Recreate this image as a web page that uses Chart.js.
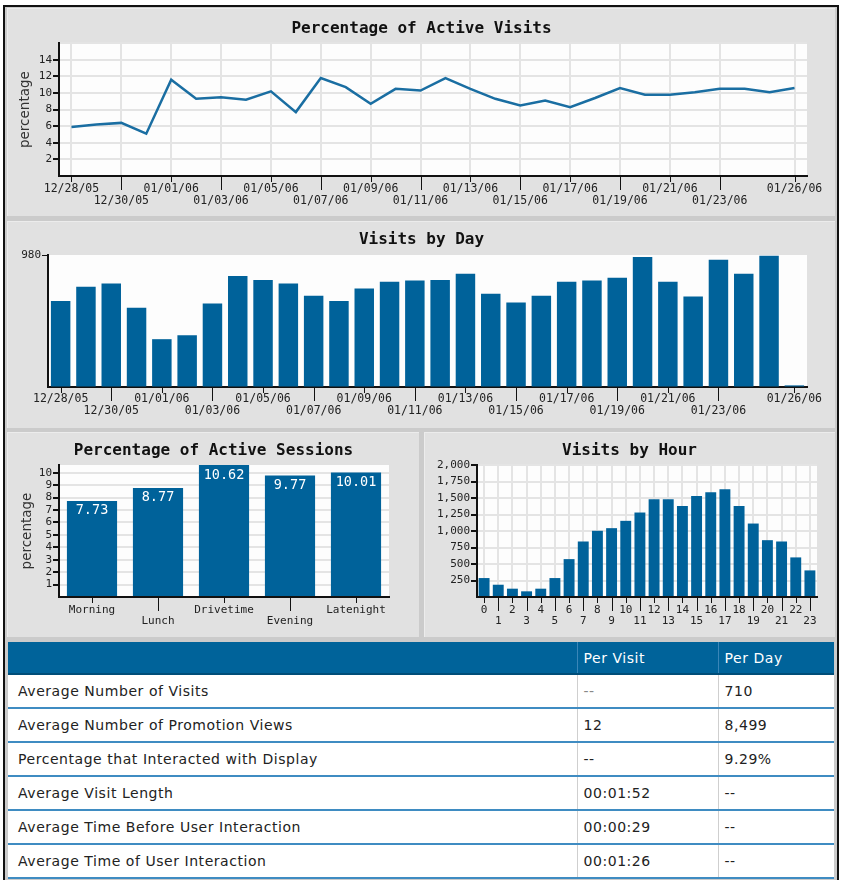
<!DOCTYPE html>
<html>
<head>
<meta charset="utf-8">
<script src="https://cdn.jsdelivr.net/npm/chart.js@4.4.1/dist/chart.umd.min.js"></script>
<style>
html,body{margin:0;padding:0;background:#fff;}
body{width:845px;height:880px;position:relative;overflow:hidden;font-family:"DejaVu Sans",Verdana,sans-serif;}
#frame{position:absolute;left:3px;top:5px;width:832px;height:900px;border:2px solid #111;border-bottom:none;background:#cbcbcb;}
.panel{position:absolute;background:#e1e1e1;box-shadow:inset 1px 1px 0 #ececec;}
canvas{position:absolute;}
#stats{position:absolute;left:8px;top:642px;width:826px;border-collapse:collapse;background:#fff;font-size:14px;letter-spacing:0.55px;color:#222;table-layout:fixed;}
#stats th{background:#00639a;color:#fff;font-weight:normal;text-align:left;height:31px;padding:0 0 0 6px;border-bottom:2px solid #004d78;border-left:1px solid #3a86b8;}
#stats th:first-child{border-left:none;}
#stats td{height:32px;padding:0 0 0 6px;border-bottom:2px solid #3f8cc2;border-left:1px solid #cfcfcf;vertical-align:middle;}
#stats td:first-child{padding-left:10px;border-left:none;}
#stats td.dim{color:#888;}
</style>
</head>
<body>
<div id="frame"></div>
<div class="panel" style="left:7px;top:8px;width:828px;height:208px;"></div>
<div class="panel" style="left:7px;top:221px;width:828px;height:207px;"></div>
<div class="panel" style="left:7px;top:432px;width:412px;height:205px;"></div>
<div class="panel" style="left:424px;top:432px;width:411px;height:205px;"></div>

<canvas id="c1" width="827" height="207" style="left:8px;top:9px;"></canvas>
<canvas id="c2" width="827" height="207" style="left:8px;top:221px;"></canvas>
<canvas id="c3" width="411" height="205" style="left:8px;top:432px;"></canvas>
<canvas id="c4" width="411" height="205" style="left:424px;top:432px;"></canvas>

<table id="stats">
<colgroup><col style="width:569px"><col style="width:141px"><col style="width:116px"></colgroup>
<thead><tr id="statsHead"></tr></thead>
<tbody id="statsBody"></tbody>
</table>

<script>
// ---------------- data ----------------
const dayLabels = ['12/28/05','12/29/05','12/30/05','12/31/05','01/01/06','01/02/06','01/03/06','01/04/06','01/05/06','01/06/06',
  '01/07/06','01/08/06','01/09/06','01/10/06','01/11/06','01/12/06','01/13/06','01/14/06','01/15/06','01/16/06',
  '01/17/06','01/18/06','01/19/06','01/20/06','01/21/06','01/22/06','01/23/06','01/24/06','01/25/06','01/26/06'];
const activeVisitPct = [5.9,6.2,6.4,5.1,11.6,9.3,9.5,9.2,10.2,7.7,11.8,10.7,8.7,10.5,10.3,11.8,10.5,9.3,8.5,9.1,
  8.3,9.4,10.6,9.8,9.8,10.1,10.5,10.5,10.1,10.6];
const visitsByDay = [638,744,769,588,355,385,620,824,794,769,677,638,732,782,791,794,841,692,628,677,
  782,791,811,965,782,671,945,841,975,12];
const visitsByDayMax = 980;
const sessionCategories = ['Morning','Lunch','Drivetime','Evening','Latenight'];
const sessionPct = [7.73,8.77,10.62,9.77,10.01];
const hourLabels = ['0','1','2','3','4','5','6','7','8','9','10','11','12','13','14','15','16','17','18','19','20','21','22','23'];
const visitsByHour = [287,186,126,86,126,287,574,841,1003,1043,1154,1280,1481,1481,1380,1531,1587,1632,1380,1113,861,841,600,403];
const tableHeader = ['', 'Per Visit', 'Per Day'];
const tableRows = [
  ['Average Number of Visits', '--', '710'],
  ['Average Number of Promotion Views', '12', '8,499'],
  ['Percentage that Interacted with Display', '--', '9.29%'],
  ['Average Visit Length', '00:01:52', '--'],
  ['Average Time Before User Interaction', '00:00:29', '--'],
  ['Average Time of User Interaction', '00:01:26', '--']
];

// ---------------- table ----------------
const head = document.getElementById('statsHead');
tableHeader.forEach(h => { const th = document.createElement('th'); th.textContent = h; head.appendChild(th); });
const body = document.getElementById('statsBody');
tableRows.forEach((r, ri) => {
  const tr = document.createElement('tr');
  r.forEach((v, ci) => { const td = document.createElement('td'); td.textContent = v;
    if (ri === 0 && ci === 1) td.className = 'dim';
    tr.appendChild(td); });
  body.appendChild(tr);
});

// ---------------- charts ----------------
Chart.defaults.animation = false;
Chart.defaults.responsive = false;
Chart.defaults.devicePixelRatio = 1;
Chart.defaults.plugins.legend.display = false;
Chart.defaults.plugins.tooltip.enabled = false;
Chart.defaults.color = '#222';

const MONO = '"DejaVu Sans Mono", monospace';
const SANS = '"DejaVu Sans", sans-serif';
const BLUE = '#00629a';
const GRID = '#e4e4e4';
const AXIS = '#111';
const NONE = 'rgba(0,0,0,0)';

const plotBg = {
  id: 'plotBg',
  beforeDraw(chart) {
    const {ctx, chartArea: a} = chart;
    ctx.save(); ctx.fillStyle = '#fdfdfd';
    ctx.fillRect(a.left, a.top, a.right - a.left, a.bottom - a.top);
    ctx.restore();
  }
};
// tick marks below the x axis: short for the first label row, long for the second
const staggerTicks = {
  id: 'staggerTicks',
  afterDraw(chart) {
    const s = chart.scales.x, ctx = chart.ctx;
    ctx.save(); ctx.strokeStyle = AXIS; ctx.lineWidth = 1;
    s.ticks.forEach((t, i) => {
      const lab = t.label;
      if (lab === '' || lab == null) return;
      const len = Array.isArray(lab) ? 14 : 6;
      const x = Math.round(s.getPixelForTick(i)) + 0.5;
      ctx.beginPath(); ctx.moveTo(x, s.top); ctx.lineTo(x, s.top + len); ctx.stroke();
    });
    ctx.restore();
  }
};
const barValues = {
  id: 'barValues',
  afterDatasetsDraw(chart) {
    const ctx = chart.ctx, meta = chart.getDatasetMeta(0), data = chart.data.datasets[0].data;
    ctx.save(); ctx.fillStyle = '#fff'; ctx.font = '13.5px ' + MONO;
    ctx.textAlign = 'center'; ctx.textBaseline = 'middle';
    meta.data.forEach((el, i) => ctx.fillText(data[i].toFixed(2), el.x, el.y + 10));
    ctx.restore();
  }
};

function titleOpt(text, top, bottom) {
  return {display: true, text, color: '#111', font: {family: MONO, size: 16, weight: 'bold', lineHeight: 1.2},
    padding: {top, bottom}};
}
// invisible right-hand spacer so the title stays centred on the whole panel
function spacer(w) {
  return {position: 'right', display: true, grid: {display: false, drawTicks: false}, border: {display: false},
    ticks: {display: false}, afterFit: s => { s.width = w; }};
}
const tickFont = {family: MONO, size: 11.5, lineHeight: 1.05};

// day-axis labelling: every second day, plus the final day; rows alternate
function dayShown(i) { return (i % 2 === 0 && i < dayLabels.length - 2) || i === dayLabels.length - 1; }
function dayLabel(i) {
  if (!dayShown(i)) return '';
  if (i === dayLabels.length - 1 || i % 4 === 0) return dayLabels[i];
  return ['', dayLabels[i]];
}

// Chart 1: Percentage of Active Visits
new Chart(document.getElementById('c1'), {
  type: 'line',
  data: {labels: dayLabels, datasets: [{data: activeVisitPct, borderColor: '#1a6ea2', borderWidth: 2.5,
    pointRadius: 0, tension: 0, fill: false}]},
  options: {
    layout: {padding: 0},
    plugins: {title: titleOpt('Percentage of Active Visits', 10, 5)},
    scales: {
      x: {type: 'category', offset: true,
        grid: {offset: false, drawTicks: false, lineWidth: 2, color: c => dayShown(c.index) ? GRID : NONE},
        border: {color: AXIS, width: 2},
        ticks: {autoSkip: false, maxRotation: 0, padding: 7, font: tickFont, color: '#222',
          callback: (v, i) => dayLabel(i)},
        afterFit: s => { s.height = 40; }},
      y: {min: 0, max: 16,
        grid: {lineWidth: 2, color: GRID, tickLength: 6, tickColor: c => (c.tick && c.tick.value > 0 && c.tick.value < 16) ? AXIS : NONE},
        border: {color: AXIS, width: 2},
        ticks: {stepSize: 2, autoSkip: false, padding: 1, font: {family: MONO, size: 11}, color: '#222',
          callback: v => (v > 0 && v < 16) ? v : ''},
        title: {display: true, text: 'percentage', color: '#333', font: {family: SANS, size: 13.5}, padding: {top: 9, bottom: 0}},
        afterFit: s => { s.width = 51; }},
      yR: spacer(28)
    }
  },
  plugins: [plotBg, staggerTicks]
});

// Chart 2: Visits by Day
new Chart(document.getElementById('c2'), {
  type: 'bar',
  data: {labels: dayLabels, datasets: [{data: visitsByDay, backgroundColor: BLUE, barPercentage: 0.77, categoryPercentage: 1}]},
  options: {
    layout: {padding: 0},
    plugins: {title: titleOpt('Visits by Day', 9, 5.8)},
    scales: {
      x: {grid: {display: false, drawTicks: false}, border: {color: AXIS, width: 2},
        ticks: {autoSkip: false, maxRotation: 0, padding: 6, font: tickFont, color: '#222',
          callback: (v, i) => dayLabel(i)},
        afterFit: s => { s.height = 41; }},
      y: {min: 0, max: visitsByDayMax,
        afterBuildTicks: s => { s.ticks = [{value: 0}, {value: visitsByDayMax}]; },
        grid: {drawOnChartArea: false, tickLength: 6, tickColor: c => (c.tick && c.tick.value === visitsByDayMax) ? AXIS : NONE},
        border: {color: AXIS, width: 2},
        ticks: {padding: 1, font: {family: MONO, size: 11}, color: '#222',
          callback: v => v === visitsByDayMax ? String(v) : ''},
        afterFit: s => { s.width = 40; }},
      yR: spacer(28)
    }
  },
  plugins: [plotBg, staggerTicks]
});

// Chart 3: Percentage of Active Sessions
const sessMax = Math.max(...sessionPct);
new Chart(document.getElementById('c3'), {
  type: 'bar',
  data: {labels: sessionCategories, datasets: [{data: sessionPct, backgroundColor: BLUE, barPercentage: 0.76, categoryPercentage: 1}]},
  options: {
    layout: {padding: 0},
    plugins: {title: titleOpt('Percentage of Active Sessions', 9, 4.8)},
    scales: {
      x: {grid: {display: false, drawTicks: false}, border: {color: AXIS, width: 2},
        ticks: {autoSkip: false, maxRotation: 0, padding: 8, font: {family: MONO, size: 11, lineHeight: 1.0}, color: '#222',
          callback: (v, i) => i % 2 === 0 ? sessionCategories[i] : ['', sessionCategories[i]]},
        afterFit: s => { s.height = 40; }},
      y: {min: 0, max: sessMax,
        afterBuildTicks: s => { const t = []; for (let v = 0; v <= Math.floor(sessMax); v++) t.push({value: v}); s.ticks = t; },
        grid: {lineWidth: 2, color: GRID, tickLength: 6, tickColor: c => (c.tick && c.tick.value > 0) ? AXIS : NONE},
        border: {color: AXIS, width: 2},
        ticks: {autoSkip: false, padding: 1, font: {family: MONO, size: 11}, color: '#222',
          callback: v => v > 0 ? v : ''},
        title: {display: true, text: 'percentage', color: '#333', font: {family: SANS, size: 13.5}, padding: {top: 11, bottom: 0}},
        afterFit: s => { s.width = 51; }},
      yR: spacer(30)
    }
  },
  plugins: [plotBg, staggerTicks, barValues]
});

// Chart 4: Visits by Hour
new Chart(document.getElementById('c4'), {
  type: 'bar',
  data: {labels: hourLabels, datasets: [{data: visitsByHour, backgroundColor: BLUE, barPercentage: 0.77, categoryPercentage: 1}]},
  options: {
    layout: {padding: 0},
    plugins: {title: titleOpt('Visits by Hour', 9, 4.8)},
    scales: {
      x: {grid: {offset: false, drawTicks: false, lineWidth: 2, color: GRID}, border: {color: AXIS, width: 2},
        ticks: {autoSkip: false, maxRotation: 0, padding: 8, font: {family: MONO, size: 11, lineHeight: 1.0}, color: '#222',
          callback: (v, i) => i % 2 === 0 ? hourLabels[i] : ['', hourLabels[i]]},
        afterFit: s => { s.height = 40; }},
      y: {min: 0, max: 2000,
        grid: {lineWidth: 2, color: GRID, tickLength: 6, tickColor: c => (c.tick && c.tick.value > 0) ? AXIS : NONE},
        border: {color: AXIS, width: 2},
        ticks: {stepSize: 250, autoSkip: false, padding: 1, font: {family: MONO, size: 11}, color: '#222',
          callback: v => v > 0 ? v.toLocaleString('en-US') : ''},
        afterFit: s => { s.width = 53; }},
      yR: spacer(18)
    }
  },
  plugins: [plotBg, staggerTicks]
});
</script>
</body>
</html>
